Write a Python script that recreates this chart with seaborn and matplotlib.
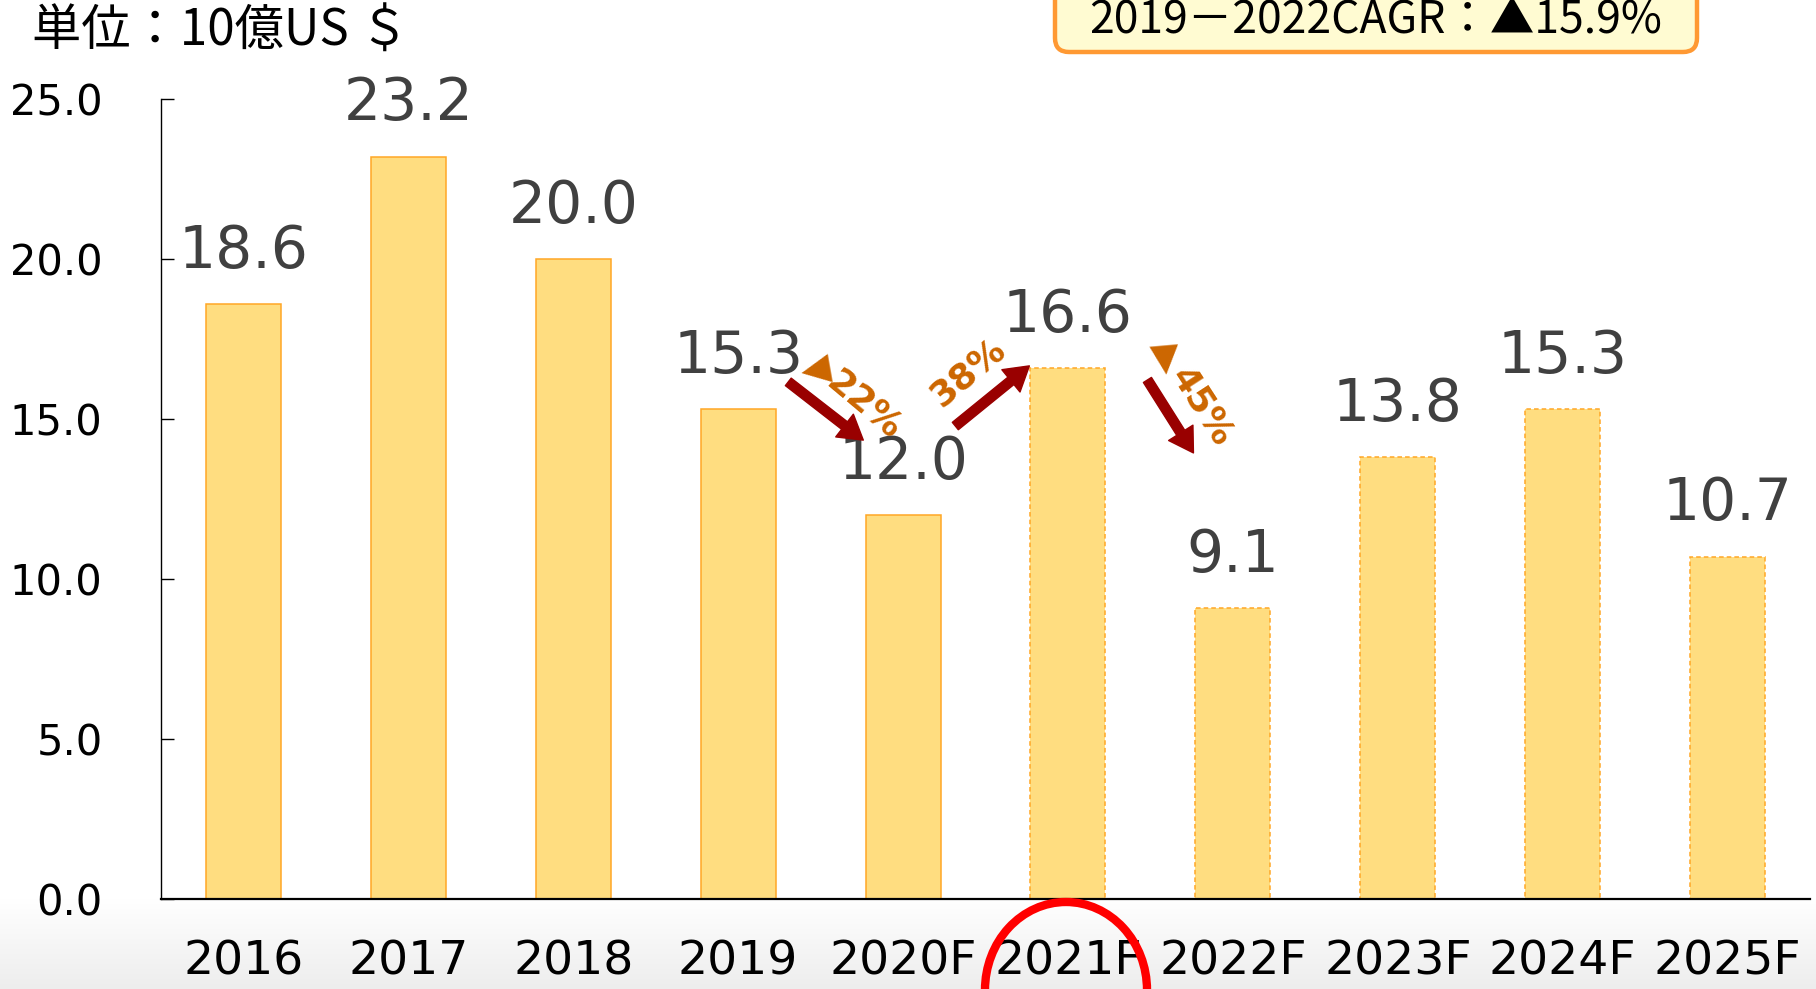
import numpy as np
import matplotlib
matplotlib.use("Agg")
import matplotlib.pyplot as plt
from matplotlib.patches import Ellipse, FancyBboxPatch
from matplotlib.ticker import FormatStrFormatter
import seaborn as sns

# data
years = ['2016', '2017', '2018', '2019', '2020F', '2021F', '2022F', '2023F', '2024F', '2025F']
values = [18.6, 23.2, 20.0, 15.3, 12.0, 16.6, 9.1, 13.8, 15.3, 10.7]
forecast_from = 5  # dashed edges from 2021F on
unit_label = '単位：10億US ＄'
cagr_label = '2019－2022CAGR：▲15.9%'

W, H = 1816, 989

sns.set_style('ticks')
plt.rcParams['font.family'] = ['DejaVu Sans', 'Noto Sans CJK JP']

fig = plt.figure(figsize=(W / 100, H / 100), dpi=100)
fig.patch.set_facecolor('white')

# grey gradient band below the axis
bg = fig.add_axes([0, 0, 1, 90 / H], zorder=-1)
grad = np.linspace(1.0, 0.93, 100).reshape(-1, 1)
bg.imshow(np.dstack([grad, grad, grad]), aspect='auto', extent=[0, 1, 0, 1])
bg.axis('off')

ax = fig.add_axes([161 / W, 90 / H, (1810 - 161) / W, 800 / H])
sns.barplot(x=years, y=values, color='#FFDD80', saturation=1, width=0.455,
            edgecolor='#FFA726', linewidth=1.1, ax=ax)
for p in ax.patches[forecast_from:]:
    p.set_linestyle((0, (3, 2)))

ax.set_xlim(-0.5, len(years) - 0.5)
ax.set_ylim(0, 25)
ax.set_yticks(np.arange(0, 26, 5))
ax.yaxis.set_major_formatter(FormatStrFormatter('%.1f'))
ax.set_xlabel('')
ax.set_ylabel('')
ax.tick_params(axis='y', direction='in', length=9, width=1, pad=42, labelsize=30, colors='black')
ax.tick_params(axis='x', length=0, pad=29, labelsize=34, colors='black')
sns.despine(ax=ax)
ax.spines['left'].set_linewidth(1.0)
ax.spines['left'].set_color('black')
ax.spines['bottom'].set_linewidth(1.6)
ax.spines['bottom'].set_color('black')

# value labels
for i, v in enumerate(values):
    ax.annotate(f'{v:.1f}', xy=(i, v), xytext=(0, 26), textcoords='offset points',
                ha='center', va='baseline', fontsize=42, color='#404040')

# change arrows between bars: (from index, tail, tip, text pos, rotation, triangle pos, triangle rot)
arrows = [
    (3, (3.304, 16.16), (3.759, 14.34), (3.76, 15.45), -40, (3.48, 16.56), 100),
    (4, (4.317, 14.78), (4.766, 16.66), (4.396, 16.45), 40, None, 0),
    (5, (5.482, 16.22), (5.761, 13.94), (5.81, 15.4), -57, (5.586, 16.91), 185),
]
for i, tail, tip, tpos, rot, tri, trirot in arrows:
    ax.annotate('', xy=tip, xytext=tail,
                arrowprops=dict(arrowstyle='simple,head_length=0.95,head_width=1.15,tail_width=0.38',
                                mutation_scale=18, color='#990000', shrinkA=0, shrinkB=0))
    pct = round(abs(values[i + 1] / values[i] - 1) * 100)
    ax.text(tpos[0], tpos[1], f'{pct}%', rotation=rot, rotation_mode='anchor',
            ha='center', va='center', fontsize=26, fontweight='bold', color='#CC6600')
    if tri is not None:
        ax.text(tri[0], tri[1], '▲', rotation=trirot, rotation_mode='anchor',
                ha='center', va='center', fontsize=27, color='#CC6600')

# unit label
fig.text(32 / W, 1 - 32 / H, unit_label, family=['Noto Sans CJK JP'], fontsize=35.5,
         ha='left', va='center', color='black')

# CAGR box
box = FancyBboxPatch((1055, H - 52), 642, 72, boxstyle='round,pad=0,rounding_size=14',
                     transform=None, facecolor='#FFFBD2', edgecolor='#FF9933', linewidth=3.2)
fig.patches.append(box)
fig.text((1055 + 642 / 2) / W, 1 - 21 / H, cagr_label, family=['Noto Sans CJK JP'],
         fontsize=32, ha='center', va='center', color='black')

# red circle around 2021F
ell = Ellipse((1066 / 100, (H - 990) / 100), 1.62, 1.76, transform=fig.dpi_scale_trans,
              fill=False, edgecolor='#FF0000', linewidth=6, zorder=10)
fig.add_artist(ell)

fig.savefig('out.png', dpi=100)
